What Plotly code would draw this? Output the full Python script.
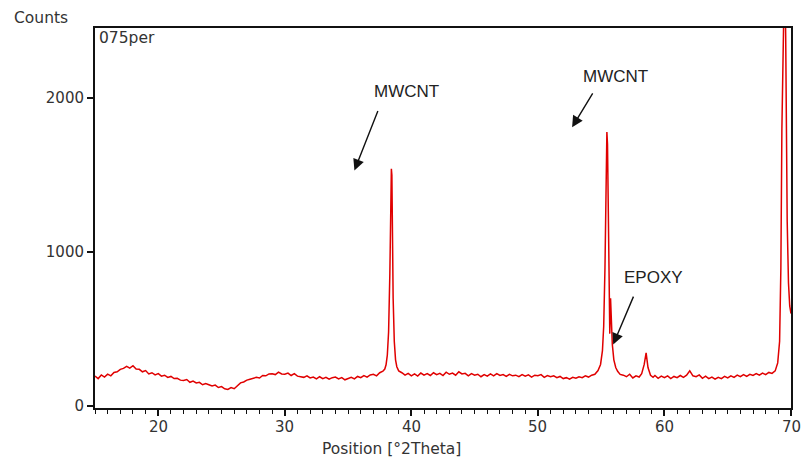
import plotly.graph_objects as go

# --- data (2Theta in degrees, counts) ---
base1_x = [15.0, 15.25, 15.5, 15.75, 16.0, 16.25, 16.5, 16.75, 17.0, 17.25, 17.5, 17.75,
           18.0, 18.25, 18.5, 18.75, 19.0, 19.25, 19.5, 19.75, 20.0, 20.25, 20.5, 20.75,
           21.0, 21.25, 21.5, 21.75, 22.0, 22.25, 22.5, 22.75, 23.0, 23.25, 23.5, 23.75,
           24.0, 24.25, 24.5, 24.75, 25.0, 25.25, 25.5, 25.75, 26.0, 26.25, 26.5, 26.75,
           27.0, 27.25, 27.5, 27.75, 28.0, 28.25, 28.5, 28.75, 29.0, 29.25, 29.5, 29.75,
           30.0, 30.25, 30.5, 30.75, 31.0, 31.25, 31.5, 31.75, 32.0, 32.25, 32.5, 32.75,
           33.0, 33.25, 33.5, 33.75, 34.0, 34.25, 34.5, 34.75, 35.0, 35.25, 35.5, 35.75,
           36.0, 36.25, 36.5, 36.75, 37.0, 37.25, 37.5, 37.75]
base1_y = [195, 178, 202, 188, 207, 196, 218, 222, 238, 244, 258, 246,
           262, 240, 238, 222, 230, 208, 216, 202, 210, 194, 200, 186,
           192, 178, 180, 168, 166, 172, 154, 162, 150, 154, 138, 146,
           138, 130, 136, 120, 126, 112, 108, 120, 112, 132, 150, 156,
           168, 174, 180, 186, 182, 198, 196, 208, 210, 204, 220, 208,
           206, 214, 198, 210, 194, 192, 186, 196, 182, 188, 176, 190,
           178, 186, 174, 184, 188, 176, 184, 170, 178, 186, 176, 192,
           184, 198, 188, 202, 206, 196, 216, 226]

peak1_x = [37.9, 38.0, 38.1, 38.2, 38.3, 38.36, 38.42, 38.46, 38.5, 38.56, 38.65, 38.75,
           38.85, 39.0]
peak1_y = [240, 268, 330, 480, 860, 1300, 1540, 1500, 1150, 700, 420, 300, 255, 228]

base2_x = [39.25, 39.5, 39.75, 40.0, 40.25, 40.5, 40.75, 41.0, 41.25, 41.5, 41.75, 42.0,
           42.25, 42.5, 42.75, 43.0, 43.25, 43.5, 43.75, 44.0, 44.25, 44.5, 44.75, 45.0,
           45.25, 45.5, 45.75, 46.0, 46.25, 46.5, 46.75, 47.0, 47.25, 47.5, 47.75, 48.0,
           48.25, 48.5, 48.75, 49.0, 49.25, 49.5, 49.75, 50.0, 50.25, 50.5, 50.75, 51.0,
           51.25, 51.5, 51.75, 52.0, 52.25, 52.5, 52.75, 53.0, 53.25, 53.5, 53.75, 54.0,
           54.25, 54.5, 54.75]
base2_y = [216, 200, 212, 196, 208, 194, 214, 200, 210, 198, 216, 204,
           212, 198, 220, 206, 214, 200, 222, 208, 212, 196, 210, 200,
           206, 190, 204, 194, 208, 196, 210, 198, 204, 192, 206, 196,
           200, 190, 204, 194, 202, 188, 200, 196, 204, 186, 198, 190,
           196, 184, 192, 178, 184, 174, 186, 180, 190, 184, 196, 188,
           200, 206, 230]

peak2_x = [54.95, 55.1, 55.2, 55.3, 55.38, 55.45, 55.5, 55.56, 55.62, 55.68, 55.74, 55.8,
           55.88, 56.0, 56.15, 56.3, 56.5]
peak2_y = [270, 360, 520, 900, 1400, 1780, 1700, 1100, 560, 470, 700, 560,
           400, 300, 250, 225, 205]

base3_x = [56.75, 57.0, 57.25, 57.5, 57.75, 58.0, 58.2, 58.4, 58.55, 58.7, 58.9, 59.1,
           59.25, 59.5, 59.75, 60.0, 60.25, 60.5, 60.75, 61.0, 61.25, 61.5, 61.75, 62.0,
           62.25, 62.5, 62.75, 63.0, 63.25, 63.5, 63.75, 64.0, 64.25, 64.5, 64.75, 65.0,
           65.25, 65.5, 65.75, 66.0, 66.25, 66.5, 66.75, 67.0, 67.25, 67.5, 67.75, 68.0,
           68.25, 68.5, 68.75]
base3_y = [200, 190, 206, 182, 196, 188, 210, 270, 345, 250, 200, 186,
           198, 180, 194, 184, 196, 178, 192, 184, 198, 186, 200, 228,
           196, 190, 202, 180, 194, 178, 188, 174, 186, 178, 192, 182,
           196, 186, 200, 190, 204, 192, 206, 198, 210, 200, 214, 204,
           218, 212, 228]

peak3_x = [68.95, 69.1, 69.2, 69.28, 69.35, 69.42, 69.5, 69.58, 69.62, 69.7, 69.8, 69.9, 70.0]
peak3_y = [280, 420, 900, 1800, 2100, 2900, 2900, 2400, 1900, 1200, 800, 650, 600]

two_theta = base1_x + peak1_x + base2_x + peak2_x + base3_x + peak3_x
counts = base1_y + peak1_y + base2_y + peak2_y + base3_y + peak3_y

x_ticks = [20, 30, 40, 50, 60, 70]
y_ticks = [0, 1000, 2000]

labels = ["MWCNT", "MWCNT", "EPOXY"]
label_pos = [(39.6, 2040), (56.1, 2140), (59.1, 835)]
arrow_tail = [(37.4, 1925), (54.4, 2040), (57.6, 720)]
arrow_head = [(35.5, 1530), (52.7, 1810), (55.95, 400)]

fig = go.Figure()
fig.add_trace(go.Scatter(x=two_theta, y=counts, mode="lines",
                         line=dict(color="#e00000", width=1.5),
                         showlegend=False, hoverinfo="skip"))

for lab, (lx, ly) in zip(labels, label_pos):
    fig.add_annotation(x=lx, y=ly, text=lab, showarrow=False,
                       font=dict(family="Liberation Sans, Arial", size=17, color="#222222"))
for (tx, ty), (hx, hy) in zip(arrow_tail, arrow_head):
    fig.add_annotation(x=hx, y=hy, ax=tx, ay=ty, xref="x", yref="y", axref="x", ayref="y",
                       text="", showarrow=True, arrowhead=2, arrowsize=1.6, arrowwidth=1.4,
                       arrowcolor="#111111")

axis_font = dict(family="DejaVu Sans", size=15, color="#333333")
# x tick labels placed a little lower than plotly's default position
for t in x_ticks:
    fig.add_annotation(x=t, y=-0.05, xref="x", yref="paper", text=str(t),
                       showarrow=False, xanchor="center", yanchor="middle", font=axis_font)

txt_font = dict(family="DejaVu Sans", size=15.5, color="#333333")
fig.add_annotation(x=0.003, y=0.974, xref="paper", yref="paper", text="075per",
                   showarrow=False, xanchor="left", yanchor="middle", font=txt_font)
fig.add_annotation(x=-0.1193, y=1.0276, xref="paper", yref="paper", text="Counts",
                   showarrow=False, xanchor="left", yanchor="middle", font=txt_font)
fig.add_annotation(x=0.4267, y=-0.108, xref="paper", yref="paper",
                   text="Position [°2Theta]", showarrow=False,
                   xanchor="center", yanchor="middle", font=txt_font)

fig.update_layout(
    width=801, height=459,
    margin=dict(l=95, r=10, t=28, b=51, autoexpand=False),
    paper_bgcolor="white", plot_bgcolor="white",
    xaxis=dict(range=[15, 70], tickvals=x_ticks, automargin=False, showticklabels=False,
               ticks="outside", ticklen=6, tickwidth=1.5, tickcolor="#111111",
               minor=dict(dtick=1, tick0=15, ticks="outside", ticklen=4, tickwidth=1.2,
                          tickcolor="#111111", showgrid=False),
               showline=True, linecolor="#111111", linewidth=2, mirror=True,
               showgrid=False, zeroline=False),
    yaxis=dict(range=[-13, 2455], tickvals=y_ticks, automargin=False,
               ticks="outside", ticklen=6, tickwidth=1.5, tickcolor="#111111",
               showline=True, linecolor="#111111", linewidth=2, mirror=True,
               showgrid=False, zeroline=False, tickfont=axis_font),
)

# remove the default page margin so the figure sits at the window's top-left corner
fig.write_html("out.html", config={"displayModeBar": False},
               post_script="document.body.style.margin='0';"
                           "document.documentElement.style.overflow='hidden';")
